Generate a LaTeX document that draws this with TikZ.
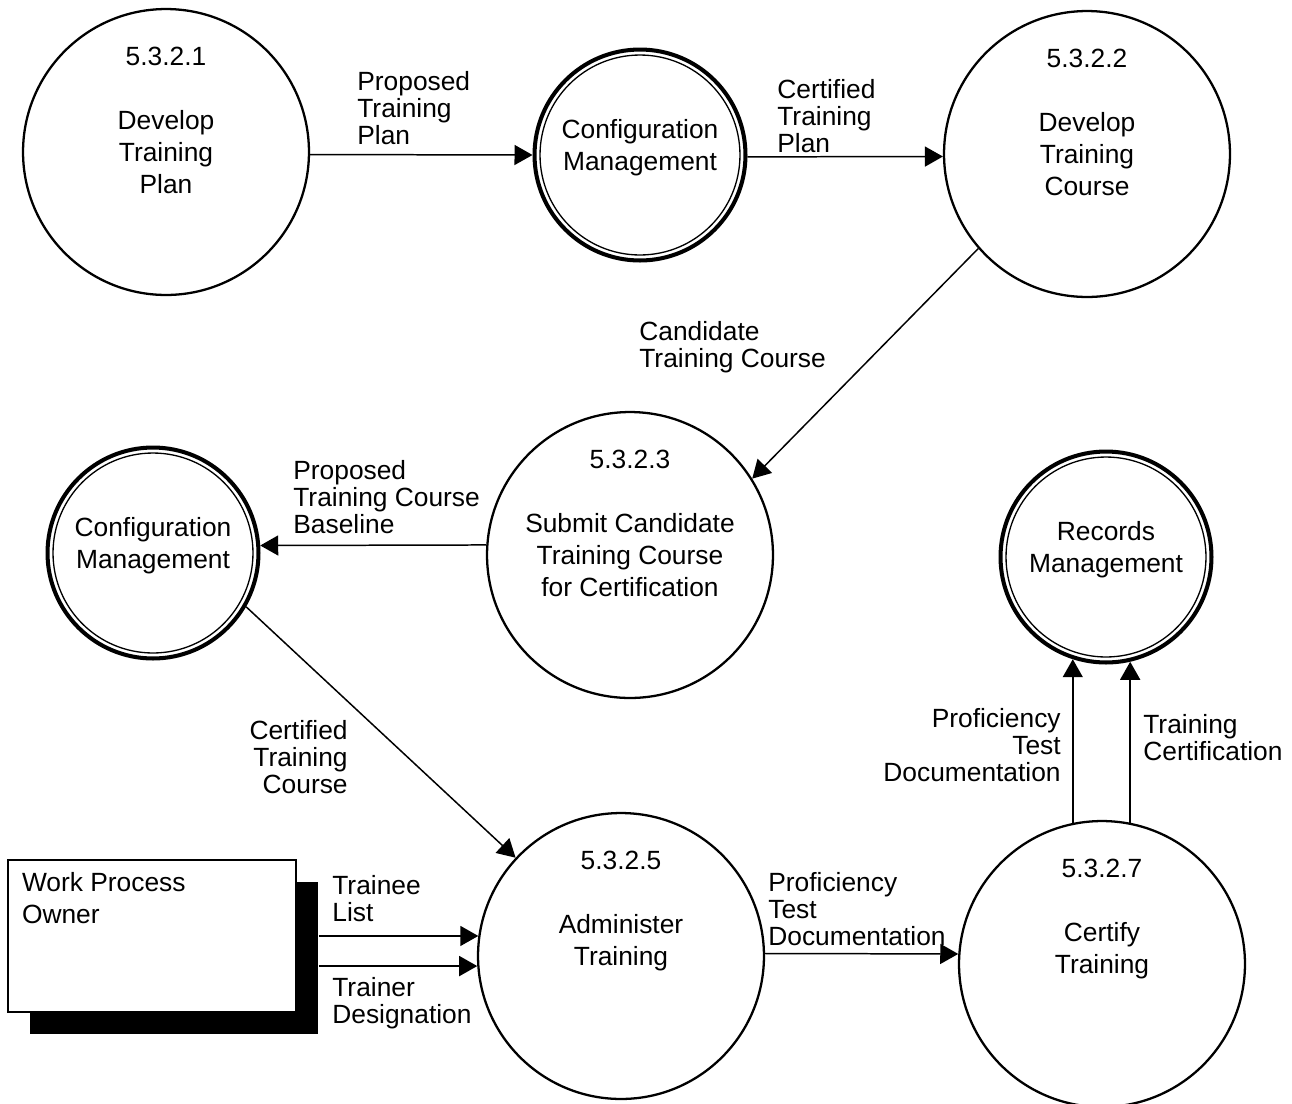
\documentclass[tikz,border=0pt]{standalone}
\usepackage{fontspec}
\setmainfont{Liberation Sans}
\usetikzlibrary{arrows.meta,shadows}

\begin{document}
\begin{tikzpicture}[x=0.02cm, y=-0.02cm,
	every node/.style={font=\fontsize{15}{18.2}\selectfont},
	>={Triangle[length=0.36cm,width=0.4cm]},
	process/.style={circle, draw, line width=1.3pt, minimum size=5.72cm, inner sep=0pt, align=center},
	store/.style={circle, draw, line width=2.3pt, minimum size=4.22cm, inner sep=0pt, align=center},
	flow/.style={->, line width=0.85pt},
	flowlabel/.style={inner sep=0pt, font=\fontsize{15}{15.4}\selectfont}]
	\useasboundingbox (0,0) rectangle (1292,1103);
	\node[process] (p1) at (166,152) {Develop\\Training\\Plan};
	\node[store] (cm1) at (640,155) {Configuration\\Management\\[-0.25cm]\mbox{}};
	\node[process] (p2) at (1087,154) {Develop\\Training\\Course};
	\node[process] (p3) at (630,555) {Submit Candidate\\Training Course\\for Certification};
	\node[store] (cm2) at (153,553) {Configuration\\Management\\[-0.25cm]\mbox{}};
	\node[store] (rm) at (1106,557) {Records\\Management\\[-0.25cm]\mbox{}};
	\node[process] (p5) at (621,956) {Administer\\Training\\\mbox{}};
	\node[process] (p7) at (1102,964) {Certify\\Training\\\mbox{}};
	\foreach \s in {cm1,cm2,rm}
		\draw[line width=0.75pt] (\s.center) circle[radius=2cm];
	\foreach \p/\lbl in {p1/5.3.2.1, p2/5.3.2.2, p3/5.3.2.3, p5/5.3.2.5, p7/5.3.2.7}
		\node[anchor=base] (\p-num) at ([yshift=1.73cm]\p.center) {\lbl};
	\node[draw, line width=1pt, fill=white, minimum width=5.76cm, minimum height=3.04cm, inner xsep=0.28cm, inner ysep=0.24cm,
		drop shadow={shadow xshift=0.44cm, shadow yshift=-0.44cm, fill=black, opacity=1}] (wpo) at (152,936)
		{\parbox[c][2.56cm][t]{5.2cm}{Work Process\\Owner}};
	\draw[flow] (p1.359) -- (cm1.west);
	\draw[flow] (cm1.359) -- (p2.181);
	\draw[flow] (p2.221) -- (p3.32);
	\draw[flow] (p3.176) -- (cm2.4);
	\draw[flow] (cm2.330) -- (p5.137);
	\draw[flow] ([xshift=0.44cm]wpo.east |- p5.172) -- (p5.172);
	\draw[flow] ([xshift=0.44cm]wpo.east |- p5.184) -- (p5.184);
	\draw[flow] (p5.1) -- (p7.176);
	\draw[flow] (p7.102 -| rm.252) -- (rm.252);
	\draw[flow] (p7.79 -| rm.283) -- (rm.283);
	\node[flowlabel, anchor=north west, align=left] (l-ptp) at (357,71) {Proposed\\Training\\Plan};
	\node[flowlabel, anchor=north west, align=left] (l-ctp) at (777,79) {Certified\\Training\\Plan};
	\node[flowlabel, anchor=north west, align=left] (l-ctc) at (639,321) {Candidate\\Training Course};
	\node[flowlabel, anchor=north west, align=left] (l-ptcb) at (293,460) {Proposed\\Training Course\\Baseline};
	\node[flowlabel, anchor=north east, align=right] (l-ctcc) at (348,720) {Certified\\Training\\Course};
	\node[flowlabel, anchor=north west, align=left] (l-tl) at (332,875) {Trainee\\List};
	\node[flowlabel, anchor=north west, align=left] (l-td) at (332,977) {Trainer\\Designation};
	\node[flowlabel, anchor=north west, align=left] (l-ptd) at (768,872) {Proficiency\\Test\\Documentation};
	\node[flowlabel, anchor=north east, align=right] (l-ptdr) at (1061,708) {Proficiency\\Test\\Documentation};
	\node[flowlabel, anchor=north west, align=left] (l-tc) at (1143,714) {Training\\Certification};
\end{tikzpicture}
\end{document}
